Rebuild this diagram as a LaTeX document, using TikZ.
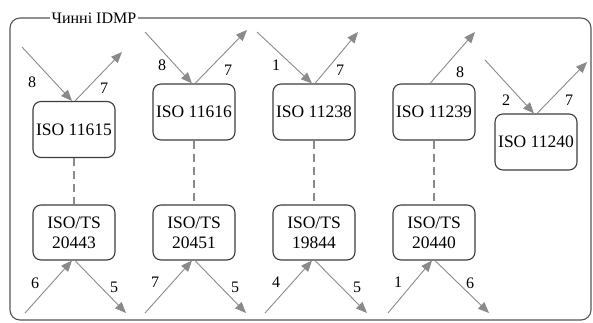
\documentclass[tikz,border=0pt]{standalone}
\usepackage{fontspec}
\setmainfont{Liberation Serif}
\usetikzlibrary{arrows.meta}
\definecolor{arrgray}{HTML}{8A8A8A}
\definecolor{boxline}{HTML}{3C3C3C}
\definecolor{frameline}{HTML}{555555}
\tikzset{
  stdbox/.style={draw=boxline, line width=1.1pt, rounded corners=8pt, fill=white,
    minimum width=82pt, minimum height=55pt, inner sep=0pt, align=center,
    font=\fontsize{17.5}{20}\selectfont},
  flow/.style={draw=arrgray, line width=0.9pt, -{Triangle[length=11pt,width=9pt]}},
  link/.style={draw=arrgray, line width=1.2pt, dash pattern=on 8pt off 5pt},
  num/.style={font=\fontsize{16}{16}\selectfont, inner sep=0pt},
}
\begin{document}
\begin{tikzpicture}[x=1pt,y=-1pt]
\useasboundingbox (0,0) rectangle (593,322);
% frame
\draw[frameline, line width=1.1pt, rounded corners=10pt] (10,18) rectangle (591,320);
\node[fill=white, inner sep=1.5pt, anchor=west, font=\fontsize{16}{16}\selectfont] (title) at (50,18) {Чинні IDMP};
% top boxes
\node[stdbox, minimum height=56pt] (b1) at (74,129.5) {ISO 11615};
\node[stdbox, minimum height=56pt] (b2) at (194,112) {ISO 11616};
\node[stdbox, minimum height=56pt] (b3) at (314,112) {ISO 11238};
\node[stdbox, minimum height=56pt] (b4) at (434,112) {ISO 11239};
\node[stdbox, minimum height=56pt] (b5) at (536,142) {ISO 11240};
% bottom boxes
\node[stdbox] (t1) at (74,232.5) {ISO/TS\\20443};
\node[stdbox] (t2) at (194,232.5) {ISO/TS\\20451};
\node[stdbox] (t3) at (314,232.5) {ISO/TS\\19844};
\node[stdbox] (t4) at (434,232.5) {ISO/TS\\20440};
% dashed links
\draw[link] (b1.south) -- (t1.north);
\draw[link] (b2.south) -- (t2.north);
\draw[link] (b3.south) -- (t3.north);
\draw[link] (b4.south) -- (t4.north);
% free ends
\coordinate (i1) at (22,47);   \coordinate (o1) at (122,52);
\coordinate (i2) at (145,32);  \coordinate (o2) at (247,30);
\coordinate (i3) at (257,32);  \coordinate (o3) at (358,32);
\coordinate (o4) at (475,32);
\coordinate (i5) at (485,60);  \coordinate (o5) at (587,62);
\coordinate (j1) at (25,313);  \coordinate (p1) at (126,313);
\coordinate (j2) at (145,313); \coordinate (p2) at (246,313);
\coordinate (j3) at (265,313); \coordinate (p3) at (367,313);
\coordinate (j4) at (388,313); \coordinate (p4) at (489,313);
% top arrows
\draw[flow] (i1) -- ([xshift=-2pt]b1.north);
\draw[flow] ([xshift=1pt]b1.north) -- (o1);
\draw[flow] (i2) -- ([xshift=-2pt]b2.north);
\draw[flow] ([xshift=1pt]b2.north) -- (o2);
\draw[flow] (i3) -- ([xshift=-2pt]b3.north);
\draw[flow] ([xshift=1pt]b3.north) -- (o3);
\draw[flow] ([xshift=-4pt]b4.north) -- (o4);
\draw[flow] (i5) -- ([xshift=-2pt]b5.north);
\draw[flow] ([xshift=1pt]b5.north) -- (o5);
% bottom arrows
\draw[flow] (j1) -- ([xshift=-2pt]t1.south);
\draw[flow] ([xshift=1pt]t1.south) -- (p1);
\draw[flow] (j2) -- ([xshift=-2pt]t2.south);
\draw[flow] ([xshift=1pt]t2.south) -- (p2);
\draw[flow] (j3) -- ([xshift=-2pt]t3.south);
\draw[flow] ([xshift=1pt]t3.south) -- (p3);
\draw[flow] (j4) -- ([xshift=-2pt]t4.south);
\draw[flow] ([xshift=1pt]t4.south) -- (p4);
% labels
\node[num] (n1a) at (32,82) {8};  \node[num] (n1b) at (104,88) {7};
\node[num] (n2a) at (162,65) {8}; \node[num] (n2b) at (228,70) {7};
\node[num] (n3a) at (276,65) {1}; \node[num] (n3b) at (340,70) {7};
\node[num] (n4b) at (460,72) {8};
\node[num] (n5a) at (506,100) {2}; \node[num] (n5b) at (569,100) {7};
\node[num] (m1a) at (35,283) {6};  \node[num] (m1b) at (114,287) {5};
\node[num] (m2a) at (155,282) {7}; \node[num] (m2b) at (235,287) {5};
\node[num] (m3a) at (276,282) {4}; \node[num] (m3b) at (357,287) {5};
\node[num] (m4a) at (398,282) {1}; \node[num] (m4b) at (470,283) {6};
\end{tikzpicture}
\end{document}
